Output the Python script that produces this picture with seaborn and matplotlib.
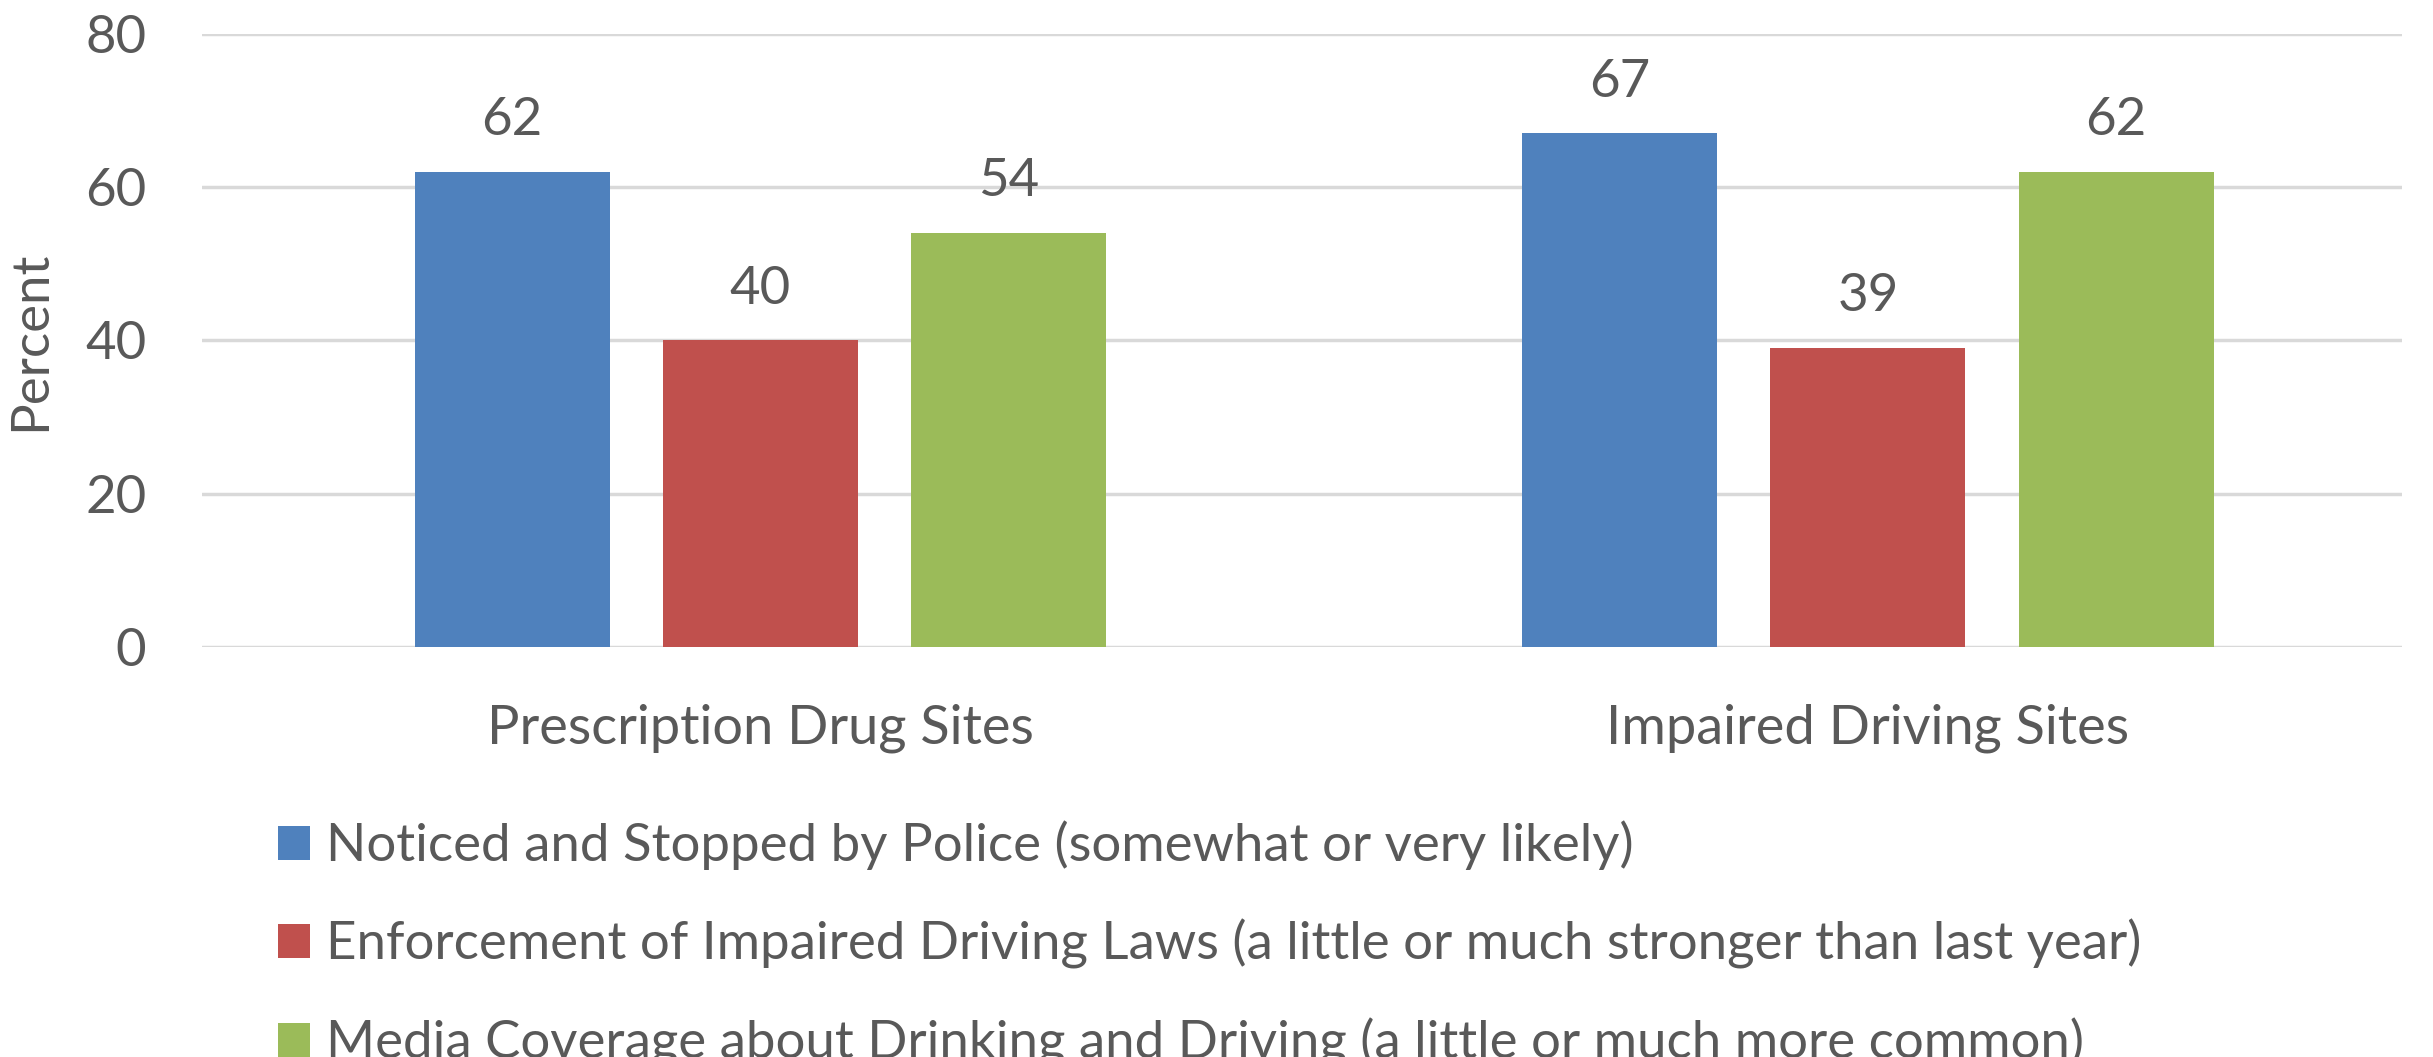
import matplotlib
matplotlib.use("Agg")
import matplotlib.pyplot as plt
import seaborn as sns
import pandas as pd

categories = ["Prescription Drug Sites", "Impaired Driving Sites"]
series_names = [
    "Noticed and Stopped by Police (somewhat or very likely)",
    "Enforcement of Impaired Driving Laws (a little or much stronger than last year)",
    "Media Coverage about Drinking and Driving (a little or much more common)",
]
noticed = [62, 67]
enforcement = [40, 39]
media = [54, 62]
y_ticks = [0, 20, 40, 60, 80]

colors = ["#4F81BD", "#C0504D", "#9BBB59"]
text_color = "#595959"

rows = []
for name, vals in zip(series_names, [noticed, enforcement, media]):
    for c, v in zip(categories, vals):
        rows.append({"Category": c, "Series": name, "Value": v})
df = pd.DataFrame(rows)

sns.set_theme(style="white")
plt.rcParams["font.family"] = ["Lato", "DejaVu Sans"]

fig = plt.figure(figsize=(24.33, 10.57), dpi=100)
ax = fig.add_axes([0.083, 0.388, 0.9042, 0.580])

sns.barplot(data=df, x="Category", y="Value", hue="Series", hue_order=series_names,
            order=categories, palette=colors, width=0.672, gap=0.214,
            saturation=1, ax=ax, legend=True, edgecolor="none")

ax.set_ylim(0, 80)
ax.set_xlim(-0.504, 1.482)
ax.set_yticks(y_ticks)
ax.yaxis.grid(True, color="#D9D9D9", linewidth=2.5)
ax.set_axisbelow(True)
for s in ax.spines.values():
    s.set_visible(False)
ax.tick_params(axis="both", length=0, colors=text_color)
ax.tick_params(axis="y", pad=40, labelsize=38)
ax.tick_params(axis="x", pad=41, labelsize=39)
ax.set_xlabel("")
ax.set_ylabel("Percent", fontsize=38, color=text_color, labelpad=22)

for cont in ax.containers:
    ax.bar_label(cont, labels=[f"{int(v)}" for v in cont.datavalues],
                 padding=20, fontsize=38, color=text_color)

handles, labels = ax.get_legend_handles_labels()
ax.get_legend().remove()
fig.legend(handles, labels, loc="upper left", bbox_to_anchor=(0.1144, 0.2235),
           frameon=False, ncol=1, fontsize=38, labelcolor=text_color,
           handlelength=0.6, handleheight=0.6, handletextpad=0.3,
           labelspacing=0.92, borderaxespad=0, borderpad=0)

fig.savefig("out.png", dpi=100)
